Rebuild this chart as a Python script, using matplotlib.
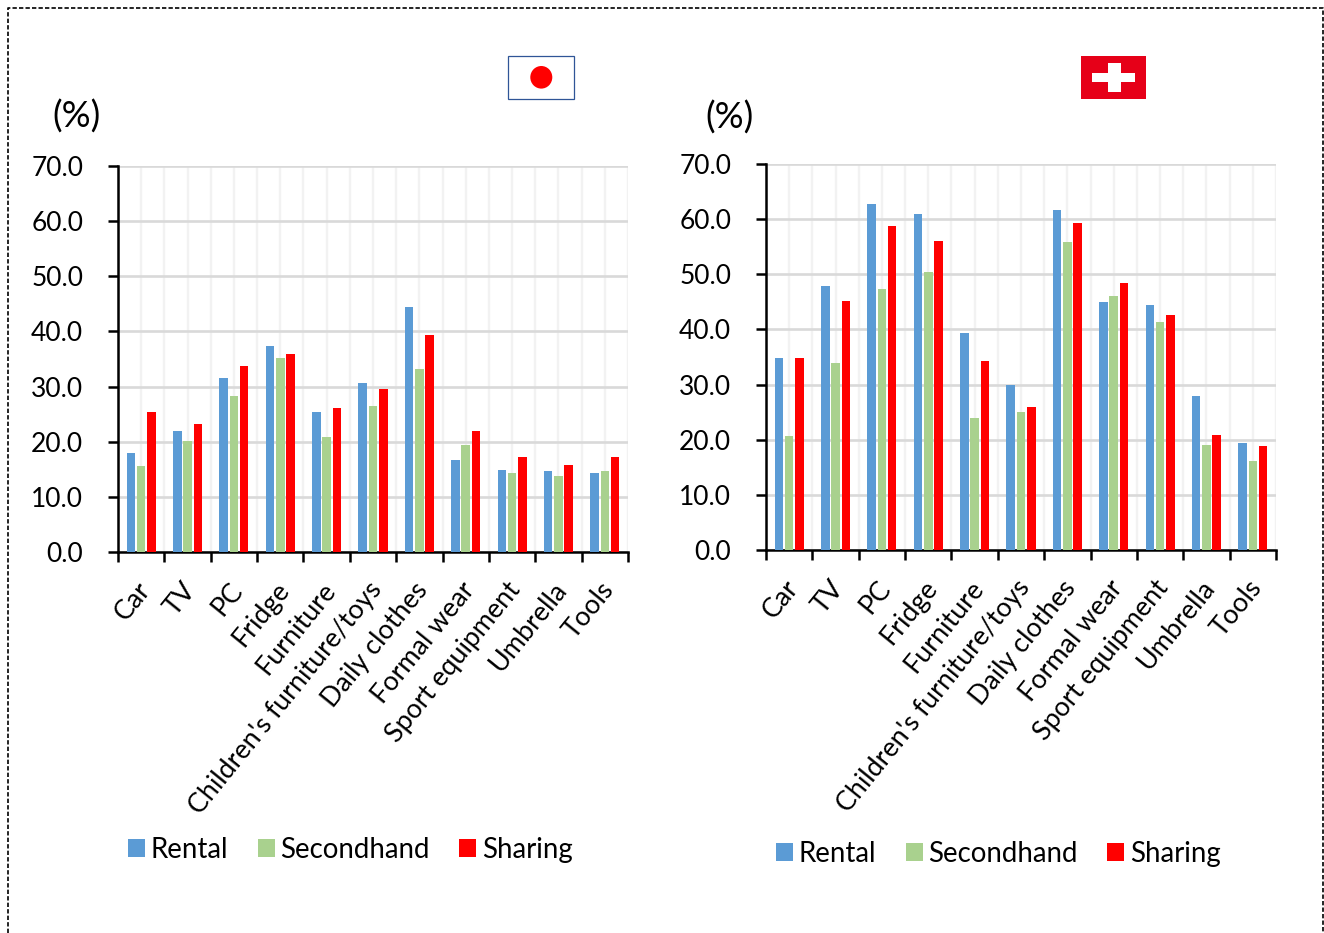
import numpy as np
import matplotlib
matplotlib.use('Agg')
import matplotlib.pyplot as plt
from matplotlib.lines import Line2D
from matplotlib.patches import Rectangle, Ellipse
from matplotlib.transforms import Affine2D, ScaledTranslation

W, H = 1324, 933

categories = ['Car', 'TV', 'PC', 'Fridge', 'Furniture', "Children's furniture/toys",
              'Daily clothes', 'Formal wear', 'Sport equipment', 'Umbrella', 'Tools']
series_names = ['Rental', 'Secondhand', 'Sharing']
y_ticks = [0, 10, 20, 30, 40, 50, 60, 70]

japan_rental = [18.0, 21.9, 31.6, 37.3, 25.4, 30.6, 44.4, 16.6, 14.9, 14.6, 14.4]
japan_secondhand = [15.6, 20.1, 28.2, 35.2, 20.9, 26.4, 33.2, 19.4, 14.4, 13.7, 14.7]
japan_sharing = [25.4, 23.3, 33.7, 35.9, 26.1, 29.6, 39.4, 22.0, 17.3, 15.7, 17.2]

swiss_rental = [34.9, 47.8, 62.7, 60.9, 39.4, 29.9, 61.6, 44.9, 44.4, 27.9, 19.4]
swiss_secondhand = [20.7, 33.9, 47.4, 50.5, 24.0, 25.1, 55.9, 46.1, 41.4, 19.1, 16.1]
swiss_sharing = [34.9, 45.2, 58.8, 56.1, 34.2, 25.9, 59.3, 48.4, 42.7, 20.9, 18.9]

colors = ['#5B9BD5', '#A9D18E', '#FF0000']

plt.rcParams['font.family'] = ['Lato', 'DejaVu Sans']

fig = plt.figure(figsize=(W / 100, H / 100), dpi=100)
# pixel coordinates with the origin at the top left
px = Affine2D().scale(1, -1).translate(0, H)


def draw_panel(left, right, top, bottom, values, legend_xy, unit_xy):
    ax = fig.add_axes([left / W, 1 - bottom / H, (right - left) / W, (bottom - top) / H])
    x = np.arange(len(categories)) + 0.5
    for i, vals in enumerate(values):
        ax.bar(x + (i - 1) * 0.222, vals, 0.185, color=colors[i], edgecolor='none',
               label=series_names[i], zorder=3)

    ax.set_xlim(0, len(categories))
    ax.set_ylim(0, 70)
    ax.set_yticks(y_ticks)
    ax.set_yticklabels([f'{v:.1f}' for v in y_ticks])
    ax.set_xticks(np.arange(len(categories) + 1))
    ax.set_xticklabels([])
    ax.set_xticks(x, minor=True)
    ax.set_xticklabels(categories, minor=True, rotation=51, ha='right', va='center',
                       rotation_mode='anchor')
    ax.tick_params(axis='y', length=7, width=1.8, labelsize=19, pad=18)
    ax.tick_params(axis='x', which='major', length=7, width=1.8)
    ax.tick_params(axis='x', which='minor', length=0, labelsize=19.4, pad=24)
    shift = ScaledTranslation(3 / 72, 0, fig.dpi_scale_trans)
    for lab in ax.get_xticklabels(minor=True):
        lab.set_transform(lab.get_transform() + shift)

    ax.set_axisbelow(True)
    ax.yaxis.grid(True, color='#D9D9D9', linewidth=1.9)
    ax.xaxis.grid(True, which='both', color='#F2F2F2', linewidth=1.7)
    for s in ['top', 'right']:
        ax.spines[s].set_visible(False)
    for s in ['left', 'bottom']:
        ax.spines[s].set_linewidth(1.8)

    leg = ax.legend(loc='center left', bbox_to_anchor=legend_xy, bbox_transform=px, ncol=3,
                    frameon=False, fontsize=19.9, handlelength=0.61, handleheight=0.61,
                    handletextpad=0.2, columnspacing=1.08, borderpad=0, borderaxespad=0)
    fig.text(unit_xy[0], unit_xy[1], '(%)', transform=px, fontsize=26, ha='center', va='center')
    return ax, leg


draw_panel(118, 628, 166, 552, [japan_rental, japan_secondhand, japan_sharing], (128, 850), (76, 117))
draw_panel(766, 1276, 164, 550, [swiss_rental, swiss_secondhand, swiss_sharing], (776, 854), (729.5, 117.5))

# flags above the panels
fig.add_artist(Rectangle((508, 55.5), 65.5, 43.5, transform=px, facecolor='white',
                         edgecolor='#2F5597', linewidth=0.9))
fig.add_artist(Ellipse((541.3, 77.3), 22, 22.6, transform=px, facecolor='#FF0000', edgecolor='none'))
fig.add_artist(Rectangle((1081, 56), 65, 43, transform=px, facecolor='#E60018', edgecolor='none'))
fig.add_artist(Rectangle((1092, 73), 43, 8.5, transform=px, facecolor='white', edgecolor='none'))
fig.add_artist(Rectangle((1107.5, 63), 13, 29, transform=px, facecolor='white', edgecolor='none'))

# dashed frame, open at the bottom edge
frame_x = [7.5, 7.5, 1322.5, 1322.5]
frame_y = [933, 8, 8, 933]
fig.add_artist(Line2D(frame_x, frame_y, transform=px, color='black', linewidth=1.2,
                      linestyle=(0, (2.6, 1.3))))

fig.savefig('out.png', dpi=100)
